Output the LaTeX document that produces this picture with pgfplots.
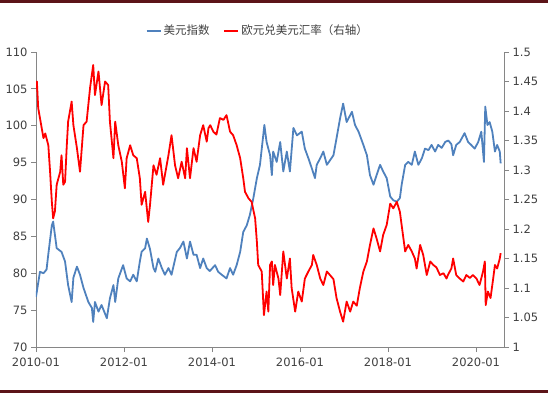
\documentclass[border=0pt]{standalone}
\usepackage{fontspec}
\setmainfont{DejaVu Sans}
\newfontfamily\cjk{Noto Sans CJK SC}
\usepackage{pgfplots}
\pgfplotsset{compat=1.18}
\definecolor{dxy}{RGB}{79,129,189}
\definecolor{eur}{RGB}{255,0,0}
\definecolor{axgray}{RGB}{134,134,134}
\definecolor{framecol}{RGB}{92,20,24}
\definecolor{txt}{RGB}{64,64,64}

\pgfplotstableread{
x y
2010.00 76.8
2010.09 80.2
2010.17 80.0
2010.24 80.5
2010.27 82.1
2010.36 86.5
2010.39 87.0
2010.47 83.4
2010.58 82.9
2010.66 81.6
2010.73 78.4
2010.81 76.1
2010.85 79.4
2010.93 80.9
2011.00 79.8
2011.08 78.0
2011.19 76.1
2011.23 75.7
2011.27 75.3
2011.30 73.4
2011.34 76.1
2011.42 74.8
2011.49 75.7
2011.61 73.9
2011.68 76.6
2011.76 78.4
2011.80 76.1
2011.87 79.3
2011.98 81.1
2012.06 79.3
2012.14 78.9
2012.21 79.8
2012.29 78.9
2012.36 81.6
2012.40 82.9
2012.48 83.4
2012.52 84.7
2012.59 83.3
2012.67 80.7
2012.71 80.2
2012.78 82.0
2012.86 80.7
2012.93 79.8
2013.01 80.7
2013.08 79.8
2013.20 82.9
2013.27 83.4
2013.35 84.3
2013.43 82.0
2013.50 84.3
2013.58 82.5
2013.65 82.5
2013.73 80.7
2013.80 82.0
2013.88 80.7
2013.95 80.3
2014.07 81.1
2014.14 80.2
2014.22 79.8
2014.33 79.3
2014.41 80.7
2014.48 79.8
2014.56 81.1
2014.64 82.9
2014.71 85.6
2014.79 86.5
2014.86 87.9
2014.94 90.2
2015.02 92.9
2015.09 94.7
2015.19 100.1
2015.24 97.8
2015.32 96.0
2015.36 93.3
2015.39 96.5
2015.47 95.1
2015.55 97.8
2015.62 93.8
2015.70 96.5
2015.77 93.8
2015.85 99.7
2015.93 98.7
2016.04 99.2
2016.11 96.9
2016.19 95.6
2016.27 94.2
2016.34 92.9
2016.38 94.7
2016.46 95.6
2016.53 96.5
2016.61 94.7
2016.68 95.3
2016.76 96.0
2016.83 98.3
2016.91 101.0
2016.98 103.0
2017.06 100.5
2017.18 101.9
2017.25 100.1
2017.33 99.2
2017.44 97.4
2017.52 96.0
2017.59 93.3
2017.67 92.0
2017.74 93.3
2017.82 94.7
2017.89 93.8
2017.97 92.9
2018.05 90.4
2018.12 89.9
2018.20 89.7
2018.27 90.2
2018.31 92.0
2018.39 94.7
2018.46 95.1
2018.54 94.7
2018.61 96.5
2018.69 94.7
2018.77 95.6
2018.84 96.9
2018.92 96.7
2018.99 97.4
2019.07 96.5
2019.14 97.4
2019.22 97.0
2019.30 97.8
2019.37 98.0
2019.44 97.5
2019.48 96.0
2019.55 97.4
2019.63 97.8
2019.74 99.0
2019.82 97.8
2019.89 97.4
2019.97 96.9
2020.05 97.8
2020.12 99.2
2020.18 95.1
2020.21 102.6
2020.26 100.1
2020.31 100.5
2020.37 99.2
2020.43 96.5
2020.48 97.4
2020.54 96.5
2020.56 94.9
}\dxytable

\pgfplotstableread{
x y
2010.00 1.438
2010.02 1.450
2010.05 1.405
2010.13 1.371
2010.17 1.354
2010.21 1.362
2010.28 1.342
2010.32 1.297
2010.36 1.246
2010.39 1.218
2010.43 1.230
2010.47 1.275
2010.55 1.297
2010.58 1.325
2010.62 1.275
2010.66 1.280
2010.70 1.342
2010.73 1.382
2010.81 1.416
2010.85 1.376
2010.93 1.337
2011.00 1.297
2011.08 1.376
2011.15 1.382
2011.23 1.440
2011.30 1.478
2011.34 1.427
2011.42 1.467
2011.49 1.410
2011.57 1.450
2011.64 1.444
2011.68 1.382
2011.76 1.320
2011.80 1.382
2011.87 1.342
2011.95 1.314
2012.02 1.269
2012.06 1.320
2012.14 1.342
2012.21 1.325
2012.29 1.320
2012.36 1.286
2012.40 1.241
2012.48 1.263
2012.55 1.212
2012.59 1.240
2012.67 1.308
2012.74 1.292
2012.82 1.320
2012.89 1.275
2013.01 1.325
2013.08 1.359
2013.16 1.308
2013.23 1.286
2013.31 1.314
2013.39 1.286
2013.43 1.337
2013.50 1.286
2013.58 1.337
2013.65 1.314
2013.73 1.359
2013.80 1.376
2013.88 1.348
2013.92 1.371
2013.96 1.376
2014.03 1.365
2014.10 1.360
2014.18 1.388
2014.26 1.385
2014.33 1.393
2014.41 1.365
2014.48 1.359
2014.56 1.342
2014.64 1.320
2014.71 1.286
2014.75 1.263
2014.83 1.252
2014.90 1.246
2014.98 1.218
2015.02 1.178
2015.05 1.139
2015.13 1.128
2015.18 1.054
2015.24 1.094
2015.28 1.060
2015.32 1.139
2015.36 1.145
2015.39 1.105
2015.43 1.139
2015.51 1.116
2015.55 1.088
2015.62 1.162
2015.70 1.116
2015.77 1.150
2015.81 1.100
2015.89 1.060
2015.96 1.094
2016.04 1.077
2016.11 1.116
2016.19 1.128
2016.27 1.139
2016.30 1.156
2016.38 1.139
2016.46 1.116
2016.53 1.105
2016.61 1.128
2016.68 1.122
2016.76 1.115
2016.83 1.083
2016.91 1.060
2016.98 1.043
2017.06 1.077
2017.14 1.060
2017.21 1.077
2017.29 1.070
2017.36 1.100
2017.44 1.128
2017.52 1.145
2017.59 1.173
2017.67 1.201
2017.74 1.184
2017.82 1.162
2017.89 1.190
2017.97 1.207
2018.05 1.243
2018.12 1.235
2018.20 1.246
2018.27 1.229
2018.35 1.184
2018.39 1.162
2018.46 1.173
2018.54 1.162
2018.61 1.150
2018.65 1.133
2018.73 1.173
2018.80 1.156
2018.88 1.122
2018.96 1.145
2019.03 1.139
2019.10 1.135
2019.18 1.122
2019.26 1.125
2019.33 1.116
2019.36 1.122
2019.44 1.133
2019.48 1.150
2019.55 1.122
2019.63 1.116
2019.71 1.111
2019.78 1.122
2019.86 1.117
2019.93 1.122
2020.01 1.116
2020.08 1.105
2020.16 1.128
2020.20 1.145
2020.22 1.071
2020.27 1.094
2020.33 1.083
2020.39 1.116
2020.43 1.139
2020.48 1.133
2020.54 1.150
2020.56 1.159
}\eurtable

\begin{document}
\begin{tikzpicture}
\path[use as bounding box] (-36pt,-47pt) rectangle (512pt,347pt);
\fill[framecol] (-36pt,344pt) rectangle (512pt,347pt);
\fill[framecol] (-36pt,-46pt) rectangle (512pt,-43pt);
\pgfplotsset{
  common/.style={
    at={(0pt,0pt)}, anchor=south west, scale only axis,
    width=468pt, height=295pt,
    xmin=2010, xmax=2020.636,
    tick align=outside, major tick length=5pt,
    axis line style={-, draw=axgray, line width=0.8pt},
    tick style={draw=axgray, line width=0.8pt},
    ticklabel style={font=\fontsize{11.5}{13}\selectfont, text=txt},
    /pgf/number format/assume math mode=true,
  }
}
\begin{axis}[common,
  ymin=70, ymax=110,
  axis x line*=bottom, axis y line*=left,
  xtick={2010,2012,2014,2016,2018,2020},
  xticklabels={2010-01,2012-01,2014-01,2016-01,2018-01,2020-01},
  xticklabel style={yshift=-2pt},
  ytick={70,75,80,85,90,95,100,105,110},
  legend style={at={(0.474,1.072)}, anchor=center, draw=none, fill=none,
    legend columns=-1, font=\cjk\fontsize{11.5}{13}\selectfont, text=txt,
    /tikz/every even column/.append style={column sep=12pt},
    inner sep=0pt},
  legend image code/.code={\draw[#1] (0pt,0pt) -- (14pt,0pt);},
]
\addplot[dxy, line width=1.8pt, line join=round] table {\dxytable};
\addlegendentry{美元指数}
\addlegendimage{eur, line width=1.8pt}
\addlegendentry{欧元兑美元汇率（右轴）}
\end{axis}
\begin{axis}[common,
  ymin=1, ymax=1.5,
  axis x line=none, axis y line*=right,
  ytick={1,1.05,1.1,1.15,1.2,1.25,1.3,1.35,1.4,1.45,1.5},
  yticklabel style={/pgf/number format/.cd, fixed, precision=2},
]
\addplot[eur, line width=1.8pt, line join=round] table {\eurtable};
\end{axis}
\end{tikzpicture}
\end{document}
